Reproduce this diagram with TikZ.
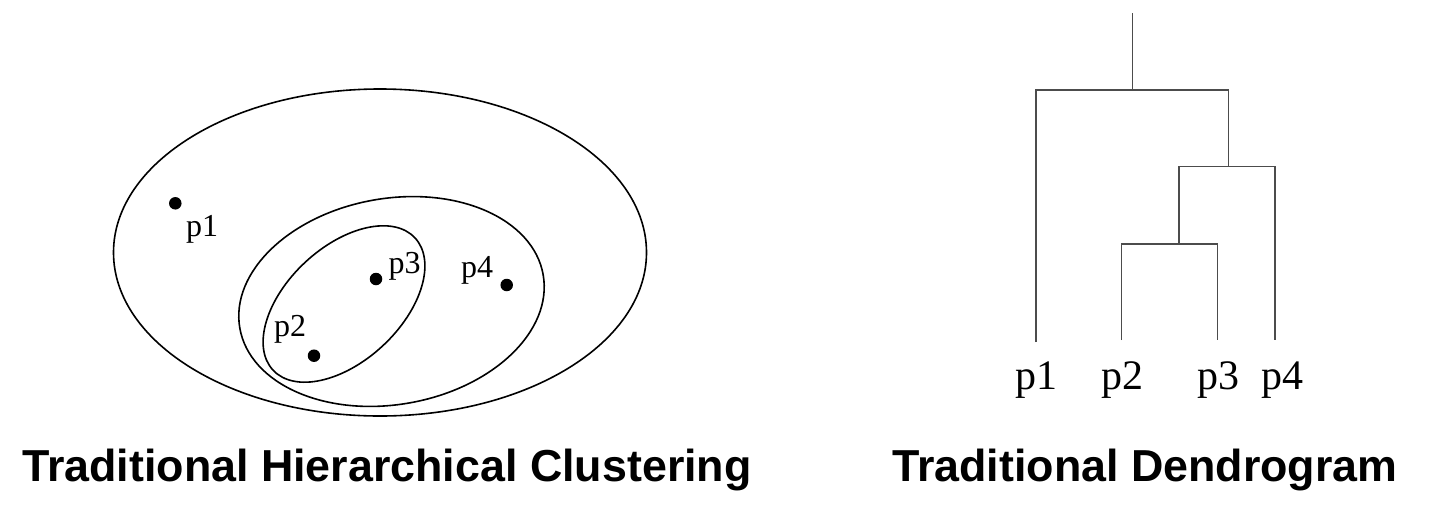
\documentclass[tikz,border=0pt]{standalone}
\usepackage{fontspec}
\setmainfont{Liberation Serif}
\newfontfamily\capfont{Liberation Sans}
\begin{document}
\begin{tikzpicture}[x=1pt, y=-1pt,
    dot/.style={circle, fill, inner sep=0pt, minimum size=12.5pt},
    lab/.style={inner sep=0pt, anchor=base west, font=\fontsize{32}{35}\selectfont},
    leaf/.style={inner sep=0pt, anchor=base, font=\fontsize{42}{46}\selectfont},
    title/.style={inner sep=0pt, anchor=base west, font=\capfont\bfseries\fontsize{44.8}{50}\selectfont},
    ring/.style={line width=1.6pt},
    link/.style={black!70, line width=1.2pt}]
  \useasboundingbox (0,0) rectangle (1447,525);

  % clusters
  \draw [ring] (380,252.5) ellipse (266.5 and 163.5);
  \draw [ring, rotate around={10:(391.5,301.5)}] (391.5,301.5) ellipse (154 and 103);
  \draw [ring, rotate around={43:(344,304)}] (344,304) ellipse (97 and 57);

  \node [dot] (d1) at (175.3,203.3) {};
  \node [dot] (d2) at (314,355.7) {};
  \node [dot] (d3) at (376,279) {};
  \node [dot] (d4) at (506.7,285) {};
  \node [lab] (t1) at (186,236) {p1};
  \node [lab] (t2) at (274,336) {p2};
  \node [lab] (t3) at (388.5,273) {p3};
  \node [lab] (t4) at (461,277) {p4};

  % dendrogram
  \node [leaf] (q1) at (1036,389) {p1};
  \node [leaf] (q2) at (1122,389) {p2};
  \node [leaf] (q3) at (1218,389) {p3};
  \node [leaf] (q4) at (1282,389) {p4};

  \coordinate (c1) at (1036,342);
  \coordinate (c2) at (1121.3,340);
  \coordinate (c3) at (1217.7,340);
  \coordinate (c4) at (1275,340);
  \coordinate (m23) at (1179,244);
  \coordinate (m234) at (1228.3,166.7);
  \coordinate (root) at (1132.3,90);
  \coordinate (top) at (1132.3,13.3);

  \draw [link] (top) -- (root);
  \draw [link] (c1) |- (root) -| (m234);
  \draw [link] (m23) |- (m234) -| (c4);
  \draw [link] (c2) |- (m23) -| (c3);

  \node [title] (cap1) at (22,481) {Traditional Hierarchical Clustering};
  \node [title] (cap2) at (892,481) {Traditional Dendrogram};
\end{tikzpicture}
\end{document}
